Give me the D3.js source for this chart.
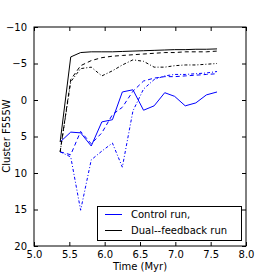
<!DOCTYPE html>
<html>
<head>
<meta charset="utf-8">
<script src="https://cdn.jsdelivr.net/npm/d3@7"></script>
<style>
  body { margin: 0; background: #fff; }
  svg { display: block; font-family: "DejaVu Sans", sans-serif; }
</style>
</head>
<body>
<svg class="canvas" width="274" height="274"></svg>
<script>
// snapshot times (Myr)
var times = [5.37, 5.52, 5.66, 5.81, 5.96, 6.11, 6.25, 6.40, 6.55, 6.70, 6.85, 6.99, 7.14, 7.29, 7.44, 7.59];

// control run (blue)
var controlSolid   = [5.75, 4.4, 4.5, 6.3, 3.0, 2.7, -1.1, -1.4, 1.4, 0.8, -1.0, -0.5, 0.8, 0.4, -0.7, -1.1];
var controlDashed  = [7.1, 7.5, 4.3, 6.0, 4.5, 2.0, 1.0, -1.2, -2.6, -3.0, -3.2, -3.2, -3.3, -3.4, -3.5, -3.6];
var controlDashDot = [7.1, 7.8, 15.1, 8.2, 7.0, 5.9, 9.2, 1.5, -1.5, -2.8, -3.3, -3.5, -3.5, -3.6, -3.7, -3.9];

// dual-feedback run (black)
var dualSolid   = [5.75, -5.9, -6.5, -6.6, -6.6, -6.6, -6.65, -6.7, -6.75, -6.8, -6.85, -6.9, -6.9, -6.95, -6.95, -7.0];
var dualDashed  = [7.1, -2.8, -4.7, -5.4, -5.8, -6.0, -6.1, -6.2, -6.3, -6.4, -6.5, -6.5, -6.6, -6.6, -6.6, -6.7];
var dualDashDot = [7.1, -2.5, -4.3, -4.5, -3.3, -4.0, -4.8, -5.5, -5.3, -4.5, -4.5, -4.7, -4.8, -4.8, -4.9, -5.0];

var xTicks = [5.0, 5.5, 6.0, 6.5, 7.0, 7.5, 8.0];
var yTicks = [-10, -5, 0, 5, 10, 15, 20];
var legendLabels = ["Control run,", "Dual--feedback run"];

var svg = d3.select('.canvas');

var x = d3.scaleLinear().domain([5, 8]).range([34, 246]);
var y = d3.scaleLinear().domain([-10, 20]).range([27, 246]);

var series = [
    {values: controlSolid,   color: "#0000ff", dash: null},
    {values: controlDashed,  color: "#0000ff", dash: "4,3"},
    {values: controlDashDot, color: "#0000ff", dash: "3,2,1,2"},
    {values: dualSolid,      color: "#000000", dash: null},
    {values: dualDashed,     color: "#000000", dash: "4,3"},
    {values: dualDashDot,    color: "#000000", dash: "3,2,1,2"}
];

var line = d3.line()
    .x(function(d, i) { return x(times[i]); })
    .y(function(d) { return y(d); });

svg.selectAll(".series")
    .data(series)
    .enter()
    .append("path")
        .attr("class", "series")
        .attr("d", function(s) { return line(s.values); })
        .attr("fill", "none")
        .attr("stroke", function(s) { return s.color; })
        .attr("stroke-width", 1)
        .attr("stroke-dasharray", function(s) { return s.dash; });

// axes, ticks pointing inward like matplotlib classic
function tickFmt(d) { return d3.format(".1f")(d); }

svg.append("g")
    .attr("transform", "translate(0,246)")
    .call(d3.axisBottom(x).tickValues(xTicks).tickFormat(tickFmt).tickSizeInner(-4).tickSizeOuter(0).tickPadding(5));
svg.append("g")
    .attr("transform", "translate(0,27)")
    .call(d3.axisTop(x).tickValues(xTicks).tickFormat("").tickSizeInner(-4).tickSizeOuter(0));
svg.append("g")
    .attr("transform", "translate(34,0)")
    .call(d3.axisLeft(y).tickValues(yTicks).tickFormat(function(d) { return d < 0 ? "\u2212" + Math.abs(d) : d; }).tickSizeInner(-4).tickSizeOuter(0).tickPadding(7));
svg.append("g")
    .attr("transform", "translate(246,0)")
    .call(d3.axisRight(y).tickValues(yTicks).tickFormat("").tickSizeInner(-4).tickSizeOuter(0));

svg.selectAll(".domain").remove();
svg.selectAll(".tick text").attr("font-size", 10).attr("font-family", "DejaVu Sans").attr("fill", "#000");

svg.append("rect")
    .attr("x", 34).attr("y", 27)
    .attr("width", 212).attr("height", 219)
    .attr("fill", "none").attr("stroke", "#000").attr("stroke-width", 1);

svg.append("text")
    .attr("x", 140).attr("y", 270)
    .attr("text-anchor", "middle")
    .attr("font-size", 10)
    .text("Time (Myr)");

svg.append("text")
    .attr("transform", "translate(10,136) rotate(-90)")
    .attr("text-anchor", "middle")
    .attr("font-size", 10)
    .text("Cluster F555W");

// legend
var legend = svg.append("g");
legend.append("rect")
    .attr("x", 97.5).attr("y", 206.5)
    .attr("width", 144).attr("height", 34)
    .attr("fill", "#fff").attr("stroke", "#000").attr("stroke-width", 1);

var legendColors = ["#0000ff", "#000000"];
legendLabels.forEach(function(label, i) {
    var ly = 214.5 + i * 16;
    legend.append("line")
        .attr("x1", 105).attr("x2", 122)
        .attr("y1", ly).attr("y2", ly)
        .attr("stroke", legendColors[i]).attr("stroke-width", 1);
    legend.append("text")
        .attr("x", 131).attr("y", ly + 3.5)
        .attr("font-size", 10)
        .text(label);
});
</script>
</body>
</html>
